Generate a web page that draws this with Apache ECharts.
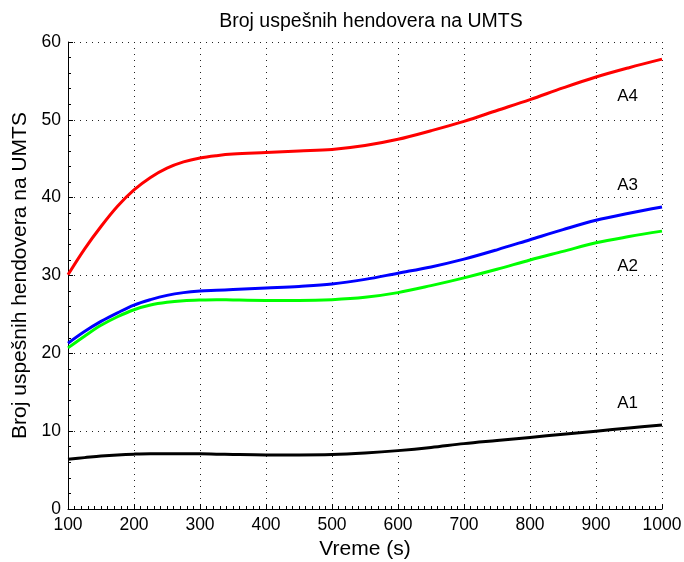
<!DOCTYPE html>
<html>
<head>
<meta charset="utf-8">
<script src="https://cdn.jsdelivr.net/npm/echarts@6/dist/echarts.min.js"></script>
<style>html,body{margin:0;padding:0;background:#fff}#c{width:684px;height:562px}</style>
</head>
<body>
<div id="c"></div>
<script>
const xValues = [100,125,150,175,200,225,250,275,300,325,350,400,450,500,550,600,650,700,750,800,850,900,950,1000];
const a4 = [30.1,33.4,36.3,38.9,41.0,42.6,43.8,44.6,45.1,45.4,45.6,45.8,46.0,46.2,46.7,47.5,48.6,49.8,51.2,52.6,54.1,55.5,56.7,57.8];
const a3 = [21.3,22.8,24.1,25.2,26.2,26.9,27.45,27.8,28.0,28.1,28.2,28.4,28.6,28.9,29.5,30.3,31.1,32.1,33.3,34.6,35.9,37.1,38.0,38.8];
const a2 = [20.7,22.2,23.6,24.7,25.6,26.2,26.55,26.75,26.85,26.9,26.85,26.8,26.8,26.9,27.2,27.8,28.7,29.7,30.8,32.0,33.1,34.2,35.0,35.7];
const a1 = [6.4,6.6,6.8,6.95,7.05,7.1,7.1,7.1,7.1,7.05,7.0,6.95,6.95,7.0,7.2,7.5,7.9,8.4,8.8,9.2,9.6,10.0,10.4,10.8];
const seriesNames = ['A4','A3','A2','A1'];
const seriesColors = ['#ff0000','#0000ff','#00ff00','#000000'];
const labelX = [948,948,948,948];
const labelY = [53.0,41.6,31.2,13.6];
const titleText = 'Broj uspešnih hendovera na UMTS';
const xName = 'Vreme (s)';
const yName = 'Broj uspešnih hendovera na UMTS';

const allData = [a4,a3,a2,a1];
const FONT = 'Liberation Sans, Arial, Helvetica, sans-serif';
const chart = echarts.init(document.getElementById('c'));
const series = allData.map((vals, i) => ({
  type: 'line',
  name: seriesNames[i],
  data: xValues.map((x, j) => [x, vals[j]]),
  smooth: 0.35,
  showSymbol: false,
  symbol: 'none',
  lineStyle: {color: seriesColors[i], width: 3},
  itemStyle: {color: seriesColors[i]},
  z: 10 - i,
  markPoint: {
    symbol: 'circle', symbolSize: 0,
    data: [{coord: [labelX[i], labelY[i]], value: seriesNames[i]}],
    label: {show: true, position: 'inside', formatter: seriesNames[i], color: '#000', fontSize: 17, fontFamily: FONT}
  }
}));
const gridLine = {show: true, lineStyle: {color: '#222', type: [1, 5], width: 1}};
chart.setOption({
  animation: false,
  backgroundColor: '#fff',
  title: {text: titleText, left: 366, top: 7, textAlign: 'center',
    textStyle: {fontSize: 19.5, fontWeight: 'normal', color: '#000', fontFamily: FONT}},
  grid: {left: 68, right: 22, top: 42, bottom: 53, containLabel: false, outerBoundsMode: 'none'},
  xAxis: {
    type: 'value', min: 100, max: 1000, interval: 100,
    name: xName, nameLocation: 'middle', nameGap: 28,
    nameTextStyle: {fontSize: 21, color: '#000', fontFamily: FONT},
    axisLine: {show: true, onZero: false, lineStyle: {color: '#000', width: 1}},
    axisTick: {show: true, inside: true, length: 5, lineStyle: {color: '#000'}},
    minorTick: {show: true, splitNumber: 10, length: 3, lineStyle: {color: '#000'}},
    axisLabel: {fontSize: 17.5, color: '#000', margin: 7, fontFamily: FONT, formatter: v => String(v)},
    splitLine: gridLine
  },
  yAxis: {
    type: 'value', min: 0, max: 60, interval: 10,
    name: yName, nameLocation: 'middle', nameGap: 35, nameRotate: 90,
    nameTextStyle: {fontSize: 21, color: '#000', fontFamily: FONT},
    axisLine: {show: true, onZero: false, lineStyle: {color: '#000', width: 1}},
    axisTick: {show: true, inside: true, length: 5, lineStyle: {color: '#000'}},
    minorTick: {show: true, splitNumber: 5, length: 3, lineStyle: {color: '#000'}},
    axisLabel: {fontSize: 17.5, color: '#000', margin: 7, fontFamily: FONT},
    splitLine: gridLine
  },
  series: series
});
</script>
</body>
</html>
